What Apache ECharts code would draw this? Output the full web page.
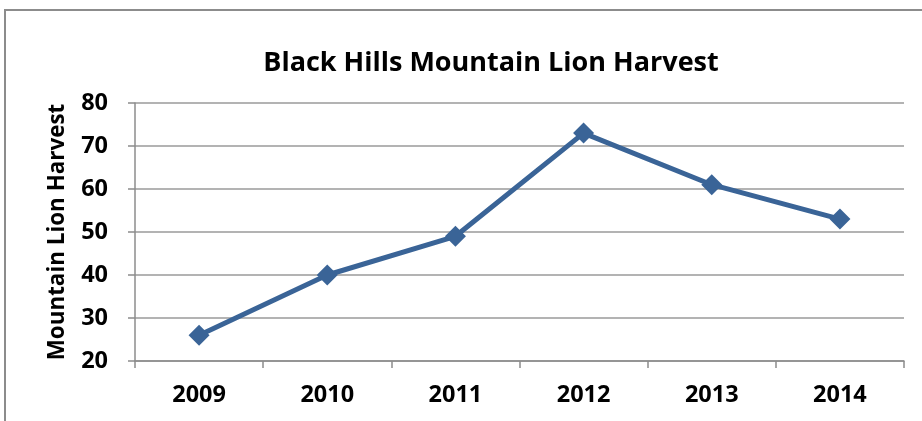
<!DOCTYPE html>
<html>
<head>
<meta charset="utf-8">
<script src="https://cdn.jsdelivr.net/npm/echarts@6/dist/echarts.min.js"></script>
<style>
html,body{margin:0;padding:0;background:#fff;overflow:hidden;}
#frame{position:absolute;left:4px;top:9px;width:940px;height:440px;border:2px solid #8c8c8c;box-sizing:border-box;}
#chart{position:absolute;left:0;top:0;width:922px;height:421px;}
</style>
</head>
<body>
<div id="frame"></div>
<div id="chart"></div>
<script>
const titleText = "Black Hills Mountain Lion Harvest";
const yAxisName = "Mountain Lion Harvest";
const years = ["2009", "2010", "2011", "2012", "2013", "2014"];
const harvest = [26, 40, 49, 73, 61, 53];
const yTicks = {min: 20, max: 80, interval: 10};

const font = "'Open Sans', sans-serif";
const chart = echarts.init(document.getElementById('chart'), null, {renderer: 'canvas'});
chart.setOption({
  animation: false,
  title: {
    text: titleText,
    left: 486, top: 45, textAlign: 'center',
    textStyle: {fontFamily: font, fontWeight: 'bold', fontSize: 27, color: '#000'}
  },
  grid: {left: 135, right: 18, top: 103, bottom: 60, containLabel: false},
  xAxis: {
    type: 'category',
    data: years,
    boundaryGap: true,
    axisLine: {lineStyle: {color: '#8c8c8c', width: 1.5}},
    axisTick: {show: true, length: 7, inside: false, lineStyle: {color: '#8c8c8c', width: 1.5}},
    axisLabel: {fontFamily: font, fontWeight: 'bold', fontSize: 23.5, color: '#000', margin: 22},
    splitLine: {show: false}
  },
  yAxis: {
    type: 'value',
    min: yTicks.min, max: yTicks.max, interval: yTicks.interval,
    name: yAxisName,
    nameLocation: 'middle',
    nameGap: 66,
    nameRotate: 90,
    nameTextStyle: {fontFamily: font, fontWeight: 'bold', fontSize: 22.4, color: '#000'},
    axisLine: {show: true, lineStyle: {color: '#8c8c8c', width: 1.5}},
    axisTick: {show: true, length: 7, lineStyle: {color: '#8c8c8c', width: 1.5}},
    axisLabel: {fontFamily: font, fontWeight: 'bold', fontSize: 23.5, color: '#000', margin: 27},
    splitLine: {show: true, lineStyle: {color: '#9a9a9a', width: 1.5}}
  },
  series: [{
    type: 'line',
    data: harvest,
    symbol: 'diamond',
    symbolSize: 21,
    lineStyle: {color: '#3a6497', width: 5},
    itemStyle: {color: '#3a6497'}
  }]
});
</script>
</body>
</html>
